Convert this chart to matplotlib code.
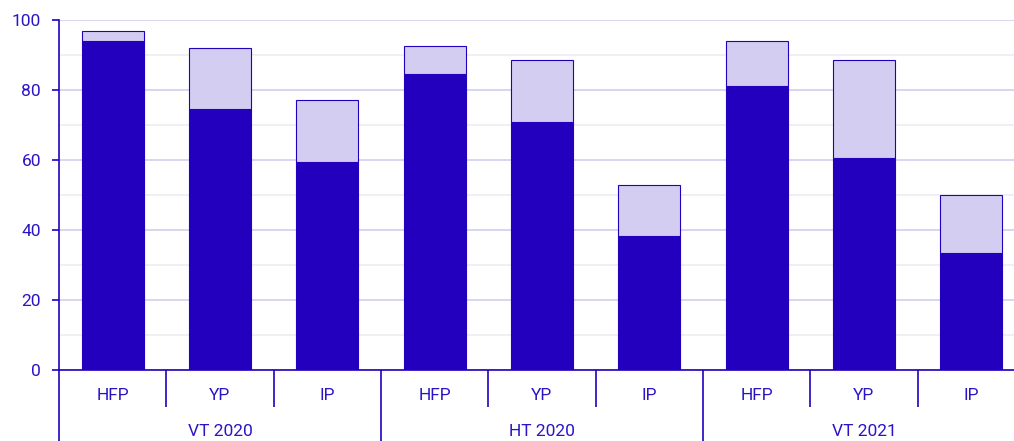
import numpy as np
import matplotlib
matplotlib.use("Agg")
from matplotlib import pyplot as plt
from matplotlib.ticker import MultipleLocator

plt.rcParams["font.family"] = ["Roboto", "DejaVu Sans"]

# data
groups = ["VT 2020", "HT 2020", "VT 2021"]
programs = ["HFP", "YP", "IP"]
dark_vals = [94.0, 74.6, 59.3, 84.5, 70.8, 38.4, 81.1, 60.5, 33.3]
total_vals = [96.8, 92.0, 77.1, 92.5, 88.6, 52.8, 94.0, 88.6, 49.9]
light_vals = [t - d for t, d in zip(total_vals, dark_vals)]

DARK = "#2200BE"
LIGHT = "#D3CDF1"
TXT = "#2A14C8"

W, H = 1014, 441
fig = plt.figure(figsize=(W / 100, H / 100), dpi=100)
# plot area runs a little past the right edge of the picture, as in the reference
ax = fig.add_axes([59 / W, 71 / H, 966 / W, 350 / H])

n = len(dark_vals)
x = np.arange(n)
bw = 0.58
ax.bar(x, dark_vals, width=bw, color=DARK, edgecolor=DARK, linewidth=0.8, zorder=3)
ax.bar(x, light_vals, bottom=dark_vals, width=bw, color=LIGHT, edgecolor=DARK,
       linewidth=0.8, zorder=3)

ax.set_xlim(-0.5, n - 0.5)
ax.set_ylim(0, 100)

ax.yaxis.set_major_locator(MultipleLocator(20))
ax.yaxis.set_minor_locator(MultipleLocator(10))
ax.grid(axis="y", which="major", color="#D2CEF0", linewidth=1.2, zorder=0)
ax.grid(axis="y", which="minor", color="#EEEEF2", linewidth=1.2, zorder=0)
ax.tick_params(axis="y", which="major", colors=DARK, labelcolor=TXT, length=5,
               width=1.2, labelsize=12.5, pad=8)
ax.tick_params(axis="y", which="minor", length=0)

for s in ["top", "right"]:
    ax.spines[s].set_visible(False)
ax.spines["left"].set_color(DARK)
ax.spines["left"].set_linewidth(1.2)
ax.spines["bottom"].set_color(DARK)
ax.spines["bottom"].set_linewidth(1.2)

# separators below the axis: short ones between programs, long ones between terms
ax.set_xticks(np.arange(-0.5, n, 3))
ax.set_xticks(np.arange(-0.5, n, 1), minor=True)
ax.set_xticklabels([])
ax.tick_params(axis="x", which="major", direction="out", length=54, width=1.2, colors=DARK)
ax.tick_params(axis="x", which="minor", direction="out", length=26.5, width=1.2, colors=DARK)

trans = ax.get_xaxis_transform()
for i in range(n):
    ax.text(x[i], -25 / 350, programs[i % 3], transform=trans, ha="center", va="center",
            color=TXT, fontsize=12.5)
for g, name in enumerate(groups):
    ax.text(g * 3 + 1, -62 / 350, name, transform=trans, ha="center", va="center",
            color=TXT, fontsize=12.5)

fig.savefig("out.png", dpi=100)
